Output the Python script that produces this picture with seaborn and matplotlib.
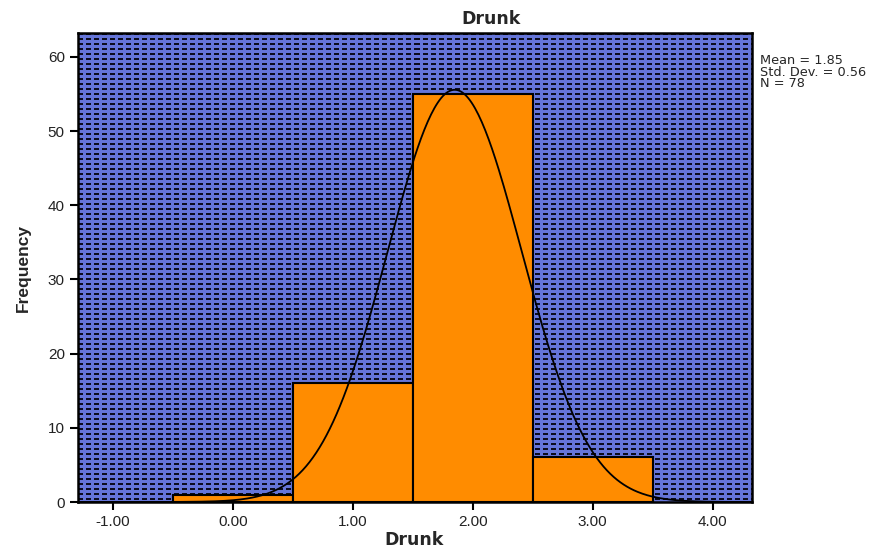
import numpy as np
import pandas as pd
import matplotlib
matplotlib.use("Agg")
import matplotlib.pyplot as plt
import seaborn as sns

# histogram of the "Drunk" scores
bin_centers = [0, 1, 2, 3]
counts = [1, 16, 55, 6]
bin_edges = [-0.5, 0.5, 1.5, 2.5, 3.5]
x_ticks = [-1, 0, 1, 2, 3, 4]
x_tick_labels = ["-1.00", "0.00", "1.00", "2.00", "3.00", "4.00"]
y_ticks = [0, 10, 20, 30, 40, 50, 60]

mean_val = 1.85
sd_val = 0.56
n_val = 78

sns.set_style("white")
plt.rcParams['font.family'] = ['Liberation Sans', 'DejaVu Sans']

df = pd.DataFrame({"Drunk": bin_centers, "count": counts})

fig = plt.figure(figsize=(8.86, 5.49), dpi=100)
ax = fig.add_axes([0.088, 0.0856, 0.761, 0.854])

# patterned background: blue with rows of short black dashes (one tile = 5x8 px)
blue = np.array([101, 117, 216]) / 255
dark = np.array([12, 12, 28]) / 255
tile = np.tile(blue, (5, 8, 1))
tile[0:2, 0:5] = dark
bg_img = np.tile(tile, (469 // 5 + 1, 674 // 8 + 1, 1))[:469, :674]
ax.imshow(bg_img, extent=(0, 1, 0, 1), transform=ax.transAxes, aspect="auto",
          interpolation="nearest", zorder=0)

sns.histplot(data=df, x="Drunk", weights="count", bins=bin_edges, ax=ax,
             color="#ff8c00", edgecolor="black", linewidth=1.5, alpha=1, zorder=2)

# normal curve
xs = np.linspace(-1.29, 4.33, 400)
ys = n_val * 1.0 * np.exp(-0.5 * ((xs - mean_val) / sd_val) ** 2) / (sd_val * np.sqrt(2 * np.pi))
ax.plot(xs, ys, color="black", linewidth=1.3, zorder=3)

ax.set_xlim(-1.29, 4.33)
ax.set_ylim(0, 63.2)
ax.set_xticks(x_ticks)
ax.set_xticklabels(x_tick_labels)
ax.set_yticks(y_ticks)
ax.tick_params(axis="both", direction="out", length=6, width=1.5, labelsize=11,
               colors="black", labelcolor="#222222", bottom=True, left=True)
for s in ax.spines.values():
    s.set_linewidth(1.8)
    s.set_color("black")
    s.set_zorder(4)

ax.set_xlabel("")
ax.set_ylabel("Frequency", fontsize=12.5, fontweight="bold", labelpad=12,
              family=["Liberation Sans Narrow", "Liberation Sans"])

fig.text(414 / 886, 1 - 540 / 549, "Drunk", ha="center", va="center",
         fontsize=12.5, fontweight="bold", family="DejaVu Sans")
fig.text(491 / 886, 1 - 19 / 549, "Drunk", ha="center", va="center",
         fontsize=12.5, fontweight="bold", family="DejaVu Sans")
fig.text(760 / 886, 1 - 54 / 549,
         f"Mean = {mean_val:.2f}\nStd. Dev. = {sd_val:.2f}\nN = {n_val}",
         ha="left", va="top", fontsize=9.3, linespacing=0.86, family="DejaVu Sans")

fig.savefig("out.png", dpi=100)
